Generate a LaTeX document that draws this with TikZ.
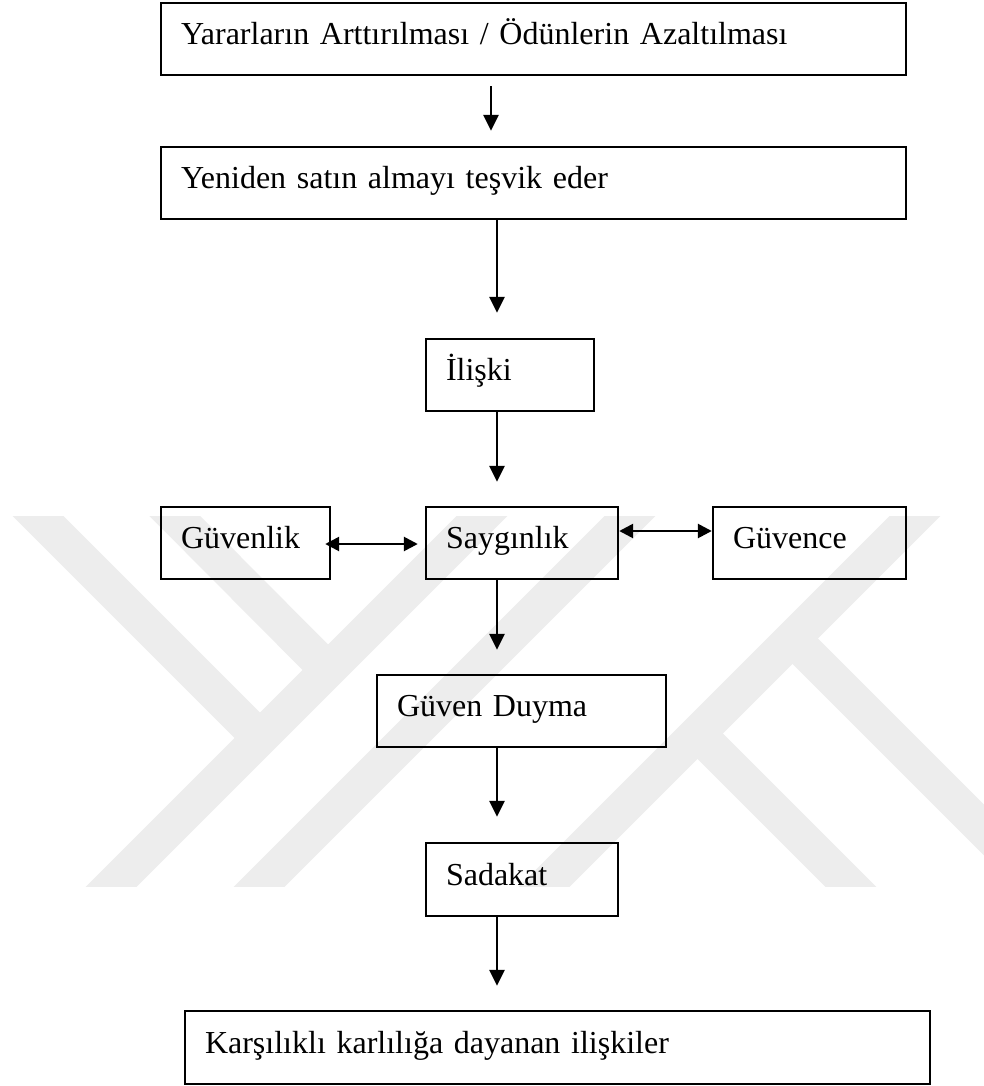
\documentclass[tikz,border=0pt]{standalone}
\usepackage{fontspec}
\setmainfont{Liberation Serif}
\usetikzlibrary{arrows.meta}
\begin{document}
\begin{tikzpicture}[x=1pt,y=-1pt,
  box/.style={draw=black, line width=2.4pt, rectangle, inner xsep=20pt, inner ysep=0pt,
    align=left, text height=22pt, text depth=11pt, font=\fontsize{32}{38}\selectfont},
  arr/.style={line width=2.6pt, -{Triangle[width=15pt,length=16pt]}},
  darr/.style={line width=2.6pt, {Triangle[width=14pt,length=14pt]}-{Triangle[width=14pt,length=14pt]}},
  wm/.style={line width=36pt, draw=black!7, line cap=butt}]
\useasboundingbox (0,0) rectangle (984,1086);
\fill[white] (0,0) rectangle (984,1086);

% watermark
\begin{scope}
\clip (0,516) rectangle (984,886);
\draw[wm] (512,486) -- (82,916);
\draw[wm] (8,486) -- (260,738);
\draw[wm] (145,486) -- (328,670);
\draw[wm] (660,486) -- (230,916);
\draw[wm] (945,486) -- (515,916);
\draw[wm] (699,735) -- (880,916);
\draw[wm] (794,640) -- (1060,906);
\end{scope}

% boxes
\node[box, text width=705pt, minimum height=72pt] (b1) at (533.5,39) {Yararların Arttırılması / Ödünlerin Azaltılması};
\node[box, text width=705pt, minimum height=72pt] (b2) at (533.5,183) {Yeniden satın almayı teşvik eder};
\node[box, text width=128pt, minimum height=72pt] (il) at (510,375) {İlişki};
\node[box, text width=129pt, minimum height=72pt] (gv) at (245.5,543) {Güvenlik};
\node[box, text width=152pt, minimum height=72pt] (sg) at (522,543) {Saygınlık};
\node[box, text width=153pt, minimum height=72pt] (gc) at (809.5,543) {Güvence};
\node[box, text width=249pt, minimum height=72pt] (gd) at (521.5,711) {Güven Duyma};
\node[box, text width=152pt, minimum height=73pt] (sd) at (522,879.5) {Sadakat};
\node[box, text width=705pt, minimum height=73pt] (kl) at (557.5,1047.5) {Karşılıklı karlılığa dayanan ilişkiler};

% connectors
\draw[arr, shorten <=10pt, shorten >=15pt] ([xshift=-42.5pt]b1.south) -- ([xshift=-42.5pt]b2.north);
\draw[arr, shorten >=25pt] ([xshift=-36.5pt]b2.south) -- ([xshift=-36.5pt]b2.south |- il.north);
\draw[arr, shorten >=24pt] ([xshift=-13pt]il.south) -- ([xshift=-25pt]sg.north);
\draw[arr, shorten >=24pt] ([xshift=-25pt]sg.south) -- ([xshift=-24.5pt]gd.north);
\draw[arr, shorten >=25pt] ([xshift=-24.5pt]gd.south) -- ([xshift=-25pt]sd.north);
\draw[arr, shorten >=24pt] ([xshift=-25pt]sd.south) -- ([xshift=-60.5pt]kl.north);
\draw[darr, shorten <=-6pt, shorten >=7pt] ([yshift=-1pt]gv.east) -- ([yshift=-1pt]sg.west);
\draw[darr] ([yshift=12pt]sg.east) -- ([yshift=12pt]gc.west);
\end{tikzpicture}
\end{document}
